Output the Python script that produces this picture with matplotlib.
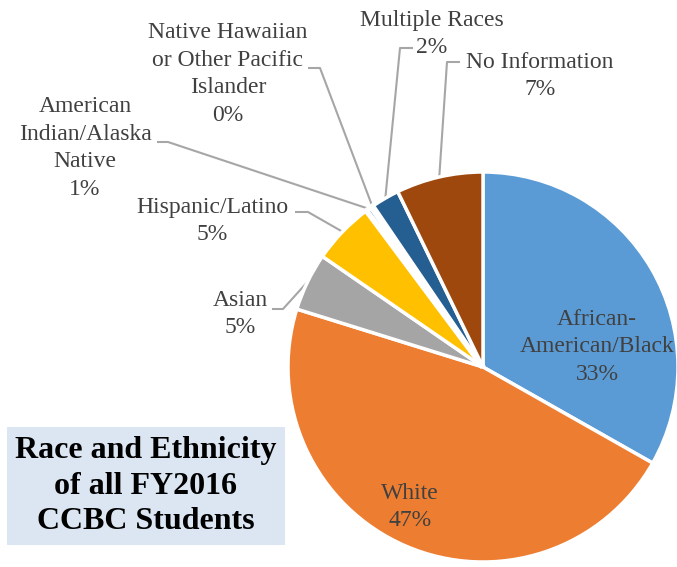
import numpy as np
import matplotlib.pyplot as plt
from matplotlib.patches import Rectangle

# data (percent of students)
groups = ['African-\nAmerican/Black', 'White', 'Asian', 'Hispanic/Latino',
          'American\nIndian/Alaska\nNative', 'Native Hawaiian\nor Other Pacific\nIslander',
          'Multiple Races', 'No Information']
shares = [33.2, 46.6, 4.8, 5.2, 0.5, 0.2, 2.3, 7.2]
colors = ['#5B9BD5', '#ED7D31', '#A5A5A5', '#FFC000', '#4472C4', '#70AD47', '#255E91', '#9E480E']
title = 'Race and Ethnicity\nof all FY2016\nCCBC Students'

W, H = 677, 567
def Y(y):
    # picture rows -> data y (up)
    return H - y

plt.rcParams['font.family'] = ['Liberation Serif', 'DejaVu Serif']
txt = '#404040'
lead = '#A6A6A6'

fig = plt.figure(figsize=(W / 100, H / 100), dpi=100)
ax = fig.add_axes([0, 0, 1, 1])

cx, cy, R = 483, Y(367), 195
wedges, _ = ax.pie(shares, colors=colors, startangle=90, counterclock=False,
                   center=(cx, cy), radius=R,
                   wedgeprops=dict(edgecolor='white', linewidth=2.5))
# tiny slices mostly vanish under the white borders
for w, s in zip(wedges, shares):
    if s < 1:
        w.set_linewidth(4)
ax.set_xlim(0, W)
ax.set_ylim(0, H)
ax.set_aspect('equal')
ax.axis('off')

pct = [f'{int(s + 0.5)}%' for s in shares]

# label centre (picture coords) and leader (start, elbow) for outside labels
label_pos = [(597, 347), (410, 507), (240, 314), (212, 221),
             (85, 148), (228, 74), (432, 34), (540, 76)]
leaders = {2: ((272, 309), (283, 309)),
           3: ((295, 212), (308, 212)),
           4: ((157, 142), (168, 142)),
           5: ((308, 68), (320, 68)),
           6: ((413, 48), (400, 48)),
           7: ((460, 62), (447, 62))}

for i, w in enumerate(wedges):
    x, y = label_pos[i]
    ax.text(x, Y(y), groups[i] + '\n' + pct[i], ha='center', va='center',
            fontsize=17, color=txt, linespacing=1.42)
    if i in leaders:
        mid = np.deg2rad((w.theta1 + w.theta2) / 2)
        ex, ey = cx + R * np.cos(mid), cy + R * np.sin(mid)
        (x0, y0), (x1, y1) = leaders[i]
        ax.plot([x0, x1, ex], [Y(y0), Y(y1), ey], color=lead, lw=1.5,
                solid_capstyle='butt', zorder=0)

ax.add_patch(Rectangle((7, Y(545)), 278, 118, facecolor='#DCE6F2',
                       edgecolor='none', zorder=3))
ax.text(146, Y(486), title, ha='center', va='center', fontsize=23,
        fontweight='bold', color='black', linespacing=1.31, zorder=4)

fig.savefig('out.png', dpi=100)
